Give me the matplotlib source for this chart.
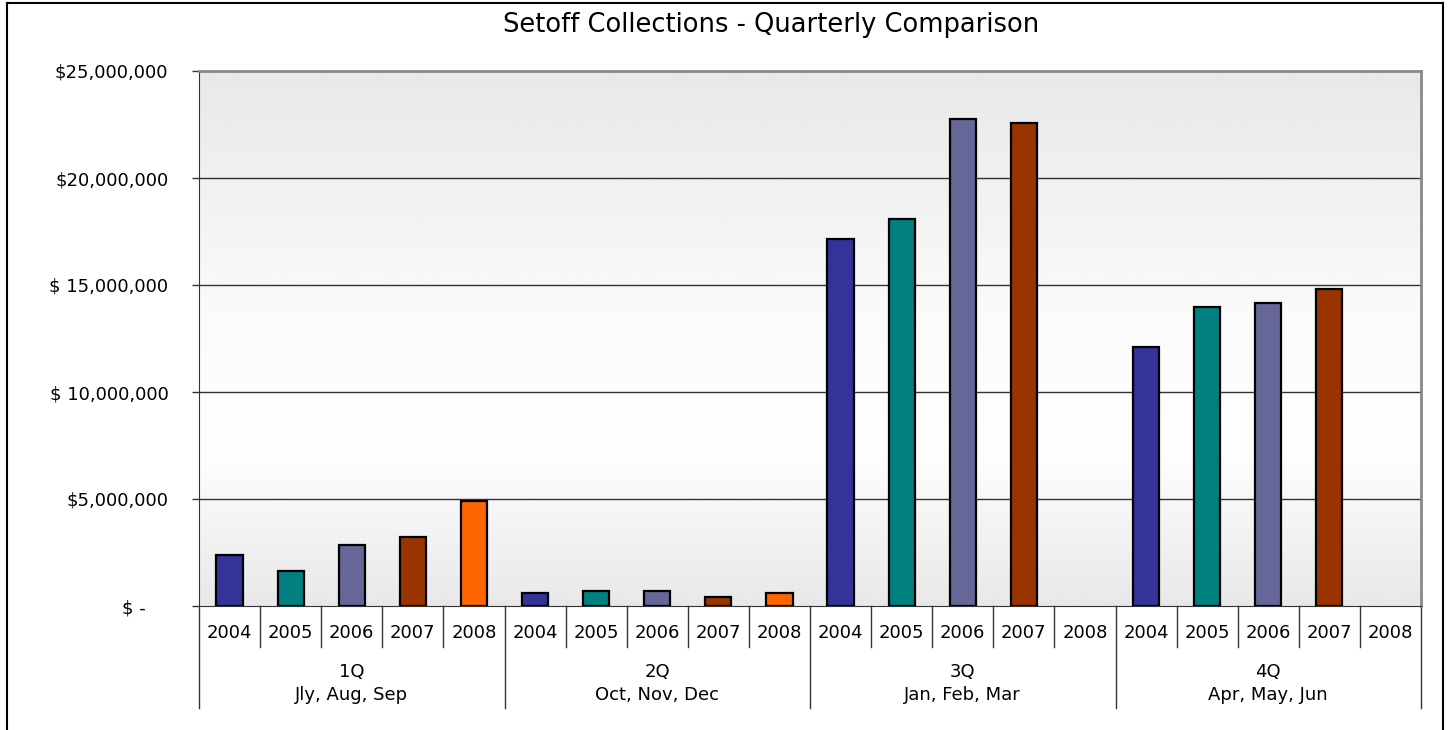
import numpy as np
import matplotlib
matplotlib.use("Agg")
import matplotlib.pyplot as plt
from matplotlib.lines import Line2D
from matplotlib.ticker import FixedLocator


# data (dollars), one list per year, ordered by quarter
years = ["2004", "2005", "2006", "2007", "2008"]
quarters = ["1Q", "2Q", "3Q", "4Q"]
months = ["Jly, Aug, Sep", "Oct, Nov, Dec", "Jan, Feb, Mar", "Apr, May, Jun"]

v2004 = [2390000, 610000, 17150000, 12110000]
v2005 = [1640000, 700000, 18080000, 13980000]
v2006 = [2850000, 700000, 22760000, 14170000]
v2007 = [3230000, 430000, 22570000, 14830000]
v2008 = [4910000, 610000, np.nan, np.nan]

series = [v2004, v2005, v2006, v2007, v2008]
colors = ["#333399", "#008080", "#666699", "#993300", "#FF6600"]

yticks = [0, 5000000, 10000000, 15000000, 20000000, 25000000]
ytick_labels = ["$ -    ", "$5,000,000", "$ 10,000,000", "$ 15,000,000",
                "$20,000,000", "$25,000,000"]

plt.rcParams["font.family"] = "DejaVu Sans"

fig = plt.figure(figsize=(14.5, 7.3), dpi=100)
ax = fig.add_axes([199 / 1450, 1 - 606 / 730, 1222 / 1450, 535 / 730])

nyears = len(years)
nq = len(quarters)

# gradient background: gray top, white around lower third, gray bottom
prof_y = np.linspace(0, 1, 200)
shade = np.interp(prof_y, [0.0, 0.29, 0.55, 1.0], [232, 254, 250, 232]) / 255.0
bg = np.repeat(shade[:, None], 2, axis=1)
ax.imshow(bg, cmap="gray", vmin=0, vmax=1, aspect="auto", origin="lower",
          extent=[-0.5, nq * nyears - 0.5, 0, 25000000], zorder=0)

# bars
for yi, (vals, col) in enumerate(zip(series, colors)):
    xs = [q * nyears + yi for q in range(nq)]
    ax.bar(xs, vals, width=0.43, color=col, edgecolor="black",
           linewidth=1.6, zorder=3)

ax.set_xlim(-0.5, nq * nyears - 0.5)
ax.set_ylim(0, 25000000)

ax.yaxis.set_major_locator(FixedLocator(yticks))
ax.set_yticklabels(ytick_labels)
ax.tick_params(axis="y", length=5, width=1, pad=17, labelsize=13,
               color="#333333")
ax.set_xticks([])

for yv in yticks[1:-1]:
    ax.axhline(yv, color="#333333", linewidth=1, zorder=1)

ax.spines["left"].set_color("#333333")
ax.spines["bottom"].set_color("#333333")
ax.spines["top"].set_color("#888888")
ax.spines["right"].set_color("#888888")
ax.spines["top"].set_linewidth(2)
ax.spines["right"].set_linewidth(2)

# category table below the axis
trans = ax.get_xaxis_transform()
year_row = -41 / 535
full_row = -102 / 535
for i in range(nq * nyears + 1):
    xb = i - 0.5
    bottom = full_row if i % nyears == 0 else year_row
    ax.plot([xb, xb], [0, bottom], color="#333333", linewidth=1,
            transform=trans, clip_on=False)

for q in range(nq):
    for yi, yr in enumerate(years):
        ax.text(q * nyears + yi, -27 / 535, yr, transform=trans,
                ha="center", va="center", fontsize=13)
    xc = q * nyears + (nyears - 1) / 2
    ax.text(xc, -66 / 535, quarters[q], transform=trans,
            ha="center", va="center", fontsize=13)
    ax.text(xc, -89 / 535, months[q], transform=trans,
            ha="center", va="center", fontsize=13)

fig.text(0.532, 1 - 25 / 730, "Setoff Collections - Quarterly Comparison",
         ha="center", va="center", fontsize=18.5)

# outer chart frame
for xs_, ys_ in [([7 / 1450, 7 / 1450], [0, 1 - 3 / 730]),
                 ([7 / 1450, 1443 / 1450], [1 - 3 / 730, 1 - 3 / 730]),
                 ([1443 / 1450, 1443 / 1450], [0, 1 - 3 / 730])]:
    fig.add_artist(Line2D(xs_, ys_, color="black", linewidth=1.5,
                          transform=fig.transFigure))

fig.savefig("out.png", dpi=100)
